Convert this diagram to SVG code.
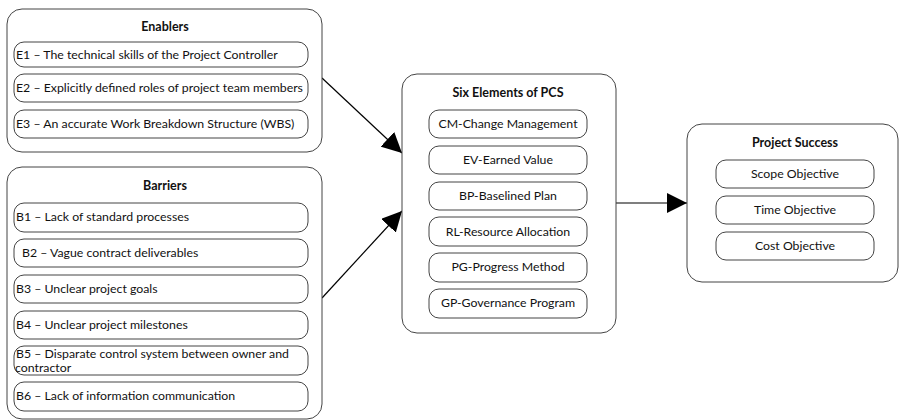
<svg xmlns="http://www.w3.org/2000/svg" width="900" height="420" viewBox="0 0 900 420">
<defs>
<style>
.outer{fill:#fff;stroke:#444;stroke-width:1}
.inner{fill:#fff;stroke:#444;stroke-width:1}
text{font-family:Lato,"Open Sans",sans-serif;font-size:12.3px;fill:#111}
.t{font-weight:bold;text-anchor:middle;font-size:12.5px}
.c{text-anchor:middle}
.conn{stroke:#000;stroke-width:1.2;fill:none}
</style>
<marker id="ah" viewBox="0 0 20 20" refX="20" refY="10" markerWidth="20" markerHeight="20" markerUnits="userSpaceOnUse" orient="auto">
<path d="M0,0 L20,10 L0,20 Z" fill="#000"/>
</marker>
</defs>
<rect width="900" height="420" fill="#fff"/>
<g id="connectors">
<line class="conn" x1="322" y1="78" x2="402" y2="153" marker-end="url(#ah)"/>
<line class="conn" x1="322" y1="298" x2="402" y2="211" marker-end="url(#ah)"/>
<line class="conn" x1="616" y1="203" x2="687" y2="203" marker-end="url(#ah)"/>
</g>
<g id="enablers">
<rect class="outer" x="7" y="9" width="315" height="143" rx="15"/>
<text class="t" x="165" y="31">Enablers</text>
<g id="e1"><rect class="inner" x="14" y="42" width="294" height="25" rx="10"/><text x="16" y="59">E1 – The technical skills of the Project Controller</text></g>
<g id="e2"><rect class="inner" x="14" y="74" width="294" height="28" rx="10"/><text x="16" y="92">E2 – Explicitly defined roles of project team members</text></g>
<g id="e3"><rect class="inner" x="14" y="110" width="294" height="28" rx="10"/><text x="16" y="128">E3 – An accurate Work Breakdown Structure (WBS)</text></g>
</g>
<g id="barriers">
<rect class="outer" x="7" y="167" width="315" height="252" rx="15"/>
<text class="t" x="165" y="190">Barriers</text>
<g id="b1"><rect class="inner" x="14" y="203" width="294" height="29" rx="10"/><text x="16" y="221">B1 – Lack of standard processes</text></g>
<g id="b2"><rect class="inner" x="14" y="239" width="294" height="28" rx="10"/><text x="22" y="257">B2 – Vague contract deliverables</text></g>
<g id="b3"><rect class="inner" x="14" y="275" width="294" height="28" rx="10"/><text x="16" y="293">B3 – Unclear project goals</text></g>
<g id="b4"><rect class="inner" x="14" y="311" width="294" height="28" rx="10"/><text x="16" y="329">B4 – Unclear project milestones</text></g>
<g id="b5"><rect class="inner" x="14" y="346" width="294" height="29" rx="10"/><text x="16" y="358">B5 – Disparate control system between owner and</text><text x="15" y="372">contractor</text></g>
<g id="b6"><rect class="inner" x="14" y="382" width="294" height="29" rx="10"/><text x="16" y="400">B6 – Lack of information communication</text></g>
</g>
<g id="pcs">
<rect class="outer" x="402" y="74" width="214" height="259" rx="15"/>
<text class="t" x="508" y="97">Six Elements of PCS</text>
<g id="cm"><rect class="inner" x="429" y="110" width="158" height="28" rx="10"/><text class="c" x="508" y="128">CM-Change Management</text></g>
<g id="ev"><rect class="inner" x="429" y="146" width="158" height="28" rx="10"/><text class="c" x="508" y="164">EV-Earned Value</text></g>
<g id="bp"><rect class="inner" x="429" y="182" width="158" height="28" rx="10"/><text class="c" x="508" y="200">BP-Baselined Plan</text></g>
<g id="rl"><rect class="inner" x="429" y="217" width="158" height="29" rx="10"/><text class="c" x="508" y="236">RL-Resource Allocation</text></g>
<g id="pg"><rect class="inner" x="429" y="253" width="158" height="29" rx="10"/><text class="c" x="508" y="271">PG-Progress Method</text></g>
<g id="gp"><rect class="inner" x="429" y="289" width="158" height="29" rx="10"/><text class="c" x="508" y="307">GP-Governance Program</text></g>
</g>
<g id="success">
<rect class="outer" x="687" y="124" width="211" height="158" rx="15"/>
<text class="t" x="795" y="147">Project Success</text>
<g id="scope"><rect class="inner" x="716" y="160" width="158" height="28" rx="10"/><text class="c" x="795" y="178">Scope Objective</text></g>
<g id="time"><rect class="inner" x="716" y="196" width="158" height="28" rx="10"/><text class="c" x="795" y="214">Time Objective</text></g>
<g id="cost"><rect class="inner" x="716" y="232" width="158" height="28" rx="10"/><text class="c" x="795" y="250">Cost Objective</text></g>
</g>
</svg>
